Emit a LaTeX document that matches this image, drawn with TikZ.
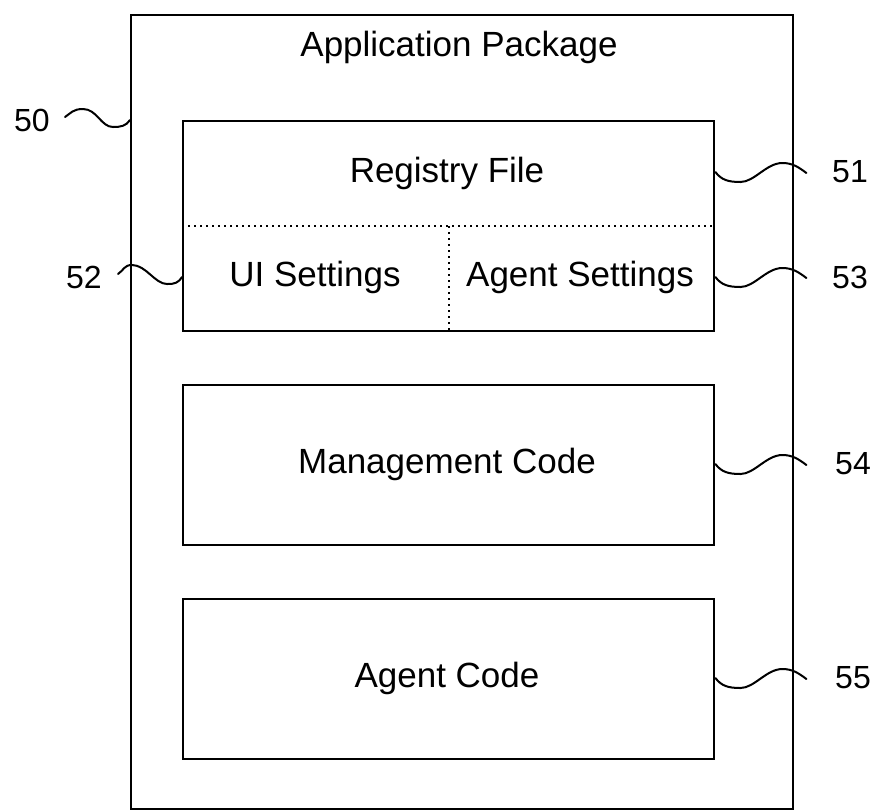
\documentclass[tikz,border=0pt]{standalone}
\usepackage{fontspec}
\setmainfont{Liberation Sans}
\begin{document}
\begin{tikzpicture}[x=0.5pt,y=-0.5pt,
  box/.style={draw,line width=1.2pt,inner sep=0pt,anchor=north west},
  txt/.style={font=\fontsize{17.5}{21}\selectfont,inner sep=0pt},
  lbl/.style={font=\fontsize{16}{19}\selectfont,inner sep=0pt},
  sq/.style={line width=1pt,line cap=round},
  dot/.style={line width=1pt,dash pattern=on 1pt off 2pt}]
\useasboundingbox (0,0) rectangle (877,810);
% boxes
\node[box,minimum width=331pt,minimum height=397pt] (outer) at (130,14) {};
\node[box,minimum width=265.5pt,minimum height=105pt] (reg) at (182,120) {};
\node[box,minimum width=265.5pt,minimum height=80pt] (mgmt) at (182,384) {};
\node[box,minimum width=265.5pt,minimum height=80pt] (agent) at (182,598) {};
% dotted dividers
\draw[dot] (reg.west) -- (reg.east);
\draw[dot] (reg.center) -- (reg.south);
% texts
\node[txt] (tap) at (459,47) {Application Package};
\node[txt] (treg) at (447,173) {Registry File};
\node[txt] (tui) at (315,277) {UI Settings};
\node[txt] (tas) at (580,277) {Agent Settings};
\node[txt] (tmc) at (447,464) {Management Code};
\node[txt] (tac) at (447,678) {Agent Code};
% labels
\node[lbl] (l50) at (32,120) {50};
\node[lbl] (l52) at (84,277) {52};
\node[lbl] (l51) at (850,172) {51};
\node[lbl] (l53) at (850,277) {53};
\node[lbl] (l54) at (853,464) {54};
\node[lbl] (l55) at (853,678) {55};
% squiggles
\draw[sq] (outer.west |- l50) .. controls +(-4,6) and +(8,0) .. ++(-17,7)
  .. controls +(-12,0) and +(14,0) .. ++(-30,-18)
  .. controls +(-10,0) and +(6,-4) .. ++(-18,8);
\draw[sq] (reg.west |- l52) .. controls +(-4,6) and +(8,0) .. ++(-15,7)
  .. controls +(-12,0) and +(14,0) .. ++(-35,-19)
  .. controls +(-8,0) and +(6,-4) .. ++(-14,9);
\foreach \b/\l in {reg/l51,reg/l53,mgmt/l54,agent/l55}{
  \draw[sq] (\b.east |- \l) .. controls +(6,8) and +(-12,0) .. ++(25,10)
    .. controls +(14,0) and +(-16,0) .. ++(42,-19)
    .. controls +(10,0) and +(-8,-6) .. ++(24,10);
}
\end{tikzpicture}
\end{document}
